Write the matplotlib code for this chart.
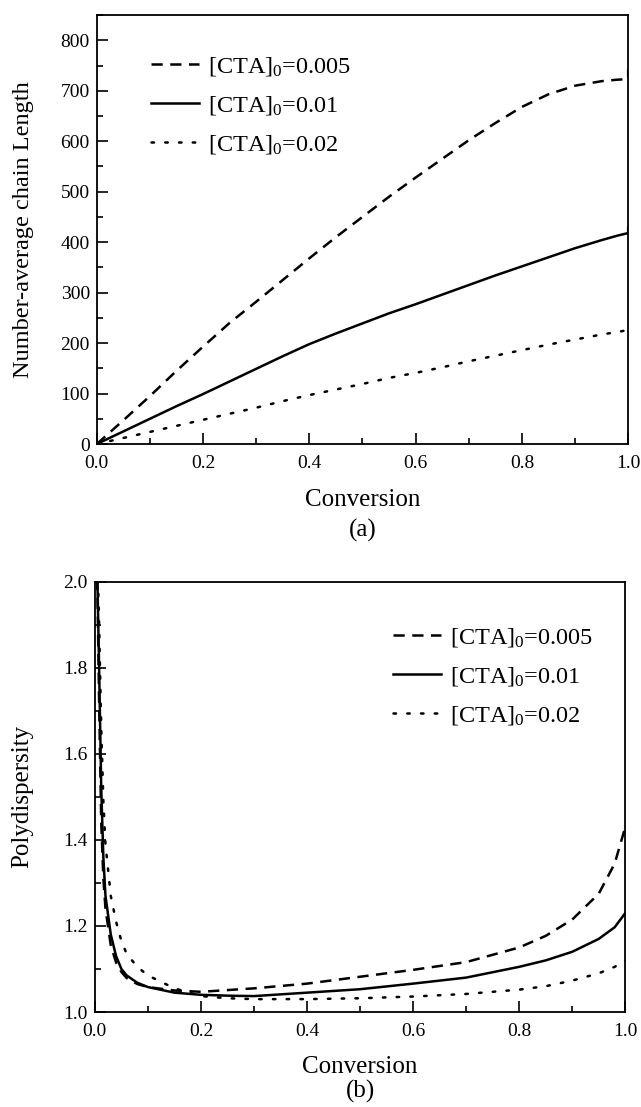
import matplotlib
matplotlib.use("Agg")
import matplotlib.pyplot as plt
from matplotlib.ticker import MultipleLocator

plt.rcParams['font.family'] = ['Liberation Serif', 'DejaVu Serif']
plt.rcParams['mathtext.fontset'] = 'custom'
plt.rcParams['mathtext.rm'] = 'Liberation Serif'
plt.rcParams['mathtext.it'] = 'Liberation Serif:italic'

labels = [r'[CTA]$_{\mathrm{0}}$=0.005', r'[CTA]$_{\mathrm{0}}$=0.01', r'[CTA]$_{\mathrm{0}}$=0.02']

# (a) number-average chain length vs conversion
conv_a = [0.0, 0.05, 0.1, 0.15, 0.2, 0.25, 0.3, 0.35, 0.4, 0.45, 0.5, 0.55,
          0.6, 0.65, 0.7, 0.75, 0.8, 0.85, 0.9, 0.95, 0.98, 1.0, 1.0]
chain_005 = [0, 47, 95, 145, 193, 240, 282, 325, 368, 410, 450, 490,
             528, 565, 602, 636, 668, 693, 710, 719, 722, 723, 742]
chain_01 = [0, 25, 50, 75, 99, 124, 149, 174, 198, 219, 239, 259,
            277, 296, 315, 334, 352, 370, 388, 404, 413, 418, 428]
chain_02 = [0, 12, 24, 36, 48, 60, 72, 85, 97, 108, 119, 131,
            141, 152, 164, 175, 186, 197, 207, 217, 222, 226, 226]

# (b) polydispersity vs conversion
conv_b = [0.004, 0.008, 0.012, 0.016, 0.02, 0.03, 0.04, 0.05, 0.06, 0.08, 0.1,
          0.15, 0.2, 0.25, 0.3, 0.4, 0.5, 0.6, 0.7, 0.8, 0.85, 0.9, 0.95, 0.98, 1.0]
pdi_005 = [2.05, 1.72, 1.44, 1.31, 1.24, 1.155, 1.115, 1.093, 1.079, 1.065, 1.058,
           1.05, 1.047, 1.051, 1.055, 1.066, 1.082, 1.098, 1.116, 1.15, 1.177,
           1.215, 1.275, 1.345, 1.43]
pdi_01 = [2.05, 1.8, 1.52, 1.36, 1.27, 1.18, 1.13, 1.10, 1.085, 1.068, 1.058,
          1.045, 1.04, 1.038, 1.037, 1.045, 1.053, 1.066, 1.08, 1.105, 1.12,
          1.14, 1.17, 1.197, 1.23]
pdi_02 = [2.1, 1.9, 1.66, 1.49, 1.39, 1.27, 1.21, 1.165, 1.135, 1.105, 1.085,
          1.055, 1.037, 1.032, 1.03, 1.03, 1.032, 1.036, 1.042, 1.052, 1.06,
          1.073, 1.09, 1.105, 1.12]

styles = [dict(linestyle=(0, (4.5, 3))),
          dict(linestyle='-'),
          dict(linestyle=(0, (1, 4.5)), dash_capstyle='round')]

fig = plt.figure(figsize=(6.41, 11.07), dpi=100)
ax1 = fig.add_axes([0.151, 0.5989, 0.829, 0.3875])
ax2 = fig.add_axes([0.148, 0.0858, 0.8275, 0.3887])


def style_axes(ax):
    for s in ax.spines.values():
        s.set_linewidth(1.3)
    ax.tick_params(which='both', direction='in', top=False, right=False,
                   labelsize=14, width=1.2)
    ax.tick_params(axis='x', pad=8)
    ax.tick_params(axis='y', pad=5)
    ax.tick_params(which='major', length=8)
    ax.tick_params(which='minor', length=4.5)
    ax.set_xlim(0, 1.0)
    ax.xaxis.set_major_locator(MultipleLocator(0.2))
    ax.xaxis.set_minor_locator(MultipleLocator(0.1))
    ax.xaxis.set_major_formatter(plt.FuncFormatter(lambda v, p: f'{v:.1f}'))


leg_kw = dict(frameon=False, fontsize=17.5, handlelength=2.0, handletextpad=0.35,
              labelspacing=0.66, borderaxespad=0)

for y, lab, st in zip([chain_005, chain_01, chain_02], labels, styles):
    ax1.plot(conv_a, y, color='black', lw=1.8, label=lab, **st)
style_axes(ax1)
ax1.set_ylim(0, 850)
ax1.yaxis.set_major_locator(MultipleLocator(100))
ax1.yaxis.set_minor_locator(MultipleLocator(50))
ax1.set_ylabel('Number-average chain Length', fontsize=17.5)
ax1.yaxis.set_label_coords(-0.118, 0.5)
fig.text(0.5655, 1 - 500 / 1107, 'Conversion', ha='center', va='center', fontsize=18)
fig.text(0.5655, 1 - 530 / 1107, '(a)', ha='center', va='center', fontsize=18)
ax1.legend(loc='upper left', bbox_to_anchor=(0.083, 0.93), **leg_kw)

for y, lab, st in zip([pdi_005, pdi_01, pdi_02], labels, styles):
    ax2.plot(conv_b, y, color='black', lw=1.8, label=lab, **st)
style_axes(ax2)
ax2.set_ylim(1.0, 2.0)
ax2.yaxis.set_major_locator(MultipleLocator(0.2))
ax2.yaxis.set_minor_locator(MultipleLocator(0.1))
ax2.set_ylabel('Polydispersity', fontsize=18)
ax2.yaxis.set_label_coords(-0.117, 0.5)
fig.text(0.5617, 1 - 1067 / 1107, 'Conversion', ha='center', va='center', fontsize=18)
fig.text(0.5617, 1 - 1091 / 1107, '(b)', ha='center', va='center', fontsize=18)
ax2.legend(loc='upper left', bbox_to_anchor=(0.543, 0.92), **leg_kw)

fig.savefig('out.png', dpi=100)
